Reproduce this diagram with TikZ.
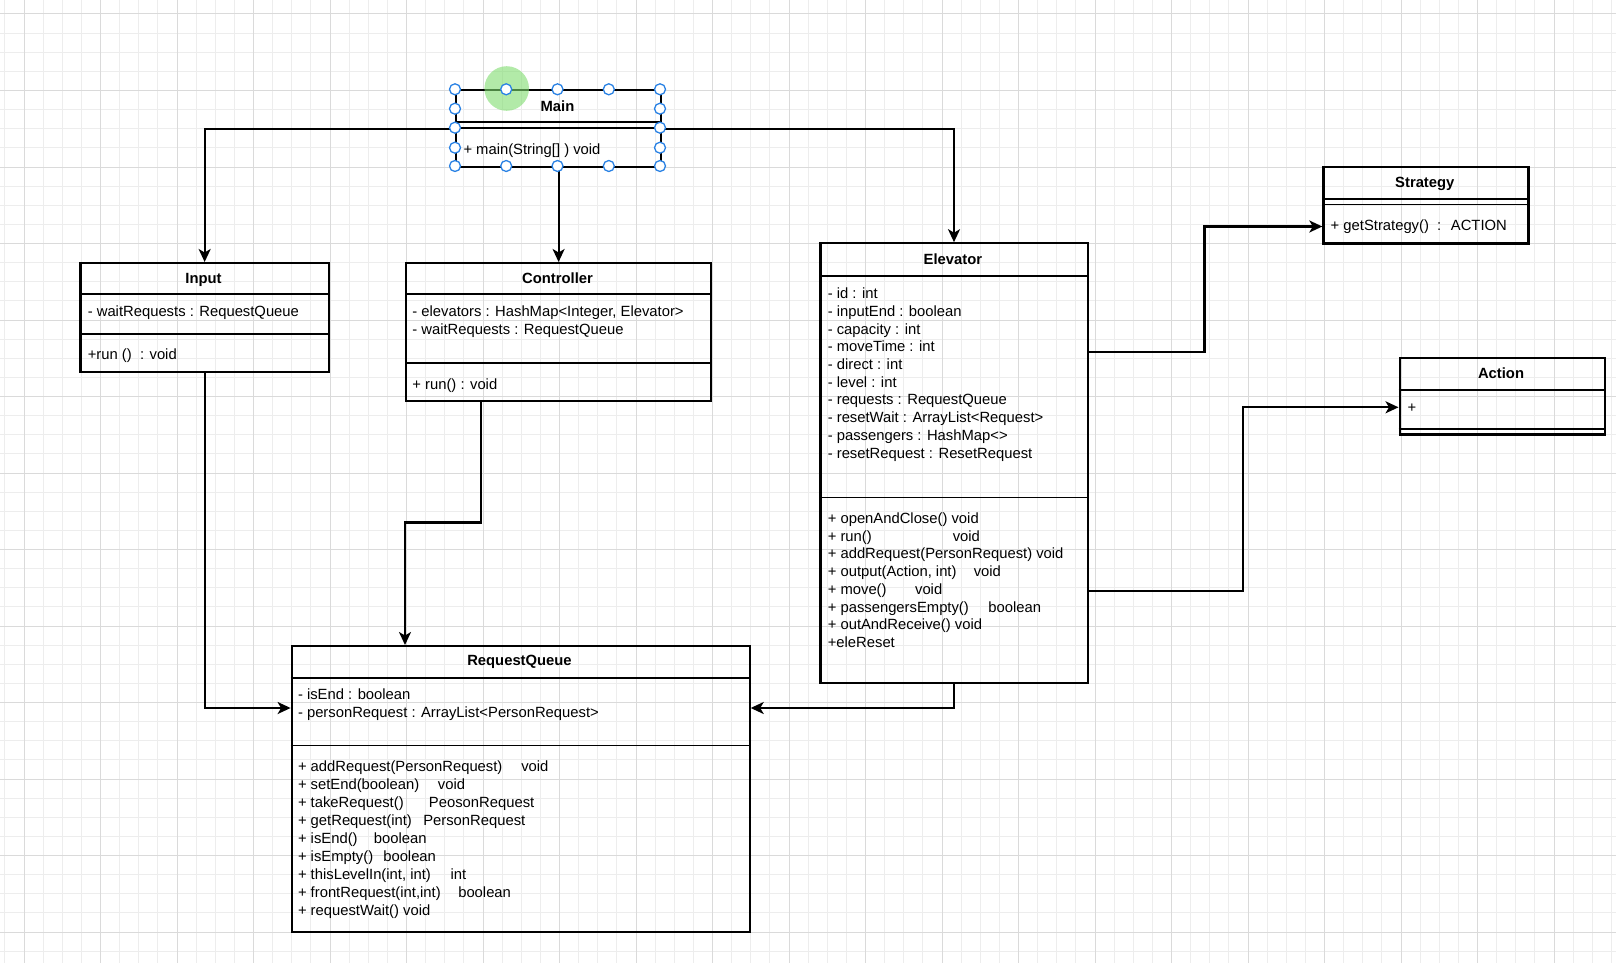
\documentclass[tikz,border=0pt]{standalone}
\usepackage{fontspec}
\setmainfont{Liberation Sans}
\usepackage{xcolor}
\definecolor{gridminor}{HTML}{EDEDED}
\definecolor{gridmajor}{HTML}{DADADA}
\definecolor{handle}{HTML}{2A82E4}
\definecolor{halo}{HTML}{7EDC6E}
\usetikzlibrary{arrows.meta,positioning,calc}

\begin{document}
\begin{tikzpicture}[x=1pt,y=-1pt,
  cls/.style={draw,line width=2.2pt,inner sep=0,anchor=north west},
  hdline/.style={line width=2.2pt},
  sep/.style={line width=1.1pt},
  conn/.style={line width=2.1pt,-{Stealth[length=13pt,width=12pt,inset=3.5pt]}},
  mem/.style={anchor=west,inner sep=0,text height=11pt,text depth=2.5pt,font=\fontsize{14.8}{17.75}\selectfont},
  ttl/.style={inner sep=0,text height=11pt,text depth=2.5pt,font=\fontsize{14.8}{17.75}\selectfont\bfseries},
  hdl/.style={circle,draw=handle,fill=white,line width=1.3pt,minimum size=11pt,inner sep=0}]
  \useasboundingbox (0,0) rectangle (1616,963);
  % grid
  \foreach \i in {0,...,84} \draw[gridminor,line width=1pt] ({4.875+19.125*\i},0) -- ++(0,963);
  \foreach \j in {0,...,49} \draw[gridminor,line width=1pt] (0,{14+19.125*\j}) -- ++(1616,0);
  \foreach \i in {0,...,20} \draw[gridmajor,line width=1pt] ({24+76.5*\i},0) -- ++(0,963);
  \foreach \j in {0,...,12} \draw[gridmajor,line width=1pt] (0,{14+76.5*\j}) -- ++(1616,0);
  % classes
  \node[cls,minimum width=205pt,minimum height=77pt] (main) at (455,89) {};
  \draw[hdline] (455,122) -- (660,122);
  \draw[sep] (455,128) -- (660,128);
  \node[ttl] (mainT) at (557.5,107.2) {Main};
  \node[mem] (mainM) at (463.3,150) {+ main(String[] ) void};

  \node[cls,minimum width=248.3pt,minimum height=109pt] (input) at (79.4,262) {};
  \draw[hdline] (79.4,294) -- (327.7,294);
  \draw[sep] (79.4,334) -- (327.7,334);
  \node[ttl] (inputT) at (203.5,279.3) {Input};
  \node[mem] (inputA) at (87.6,312.3) {- waitRequests : RequestQueue};
  \node[mem] (inputM) at (87.6,355.6) {+run ()~ : void};

  \node[cls,minimum width=305pt,minimum height=138pt] (ctrl) at (405,262) {};
  \draw[hdline] (405,294) -- (710,294);
  \draw[sep] (405,363) -- (710,363);
  \node[ttl] (ctrlT) at (557.5,279.3) {Controller};
  \node[mem] (ctrlA1) at (412.2,312.3) {- elevators : HashMap<Integer, Elevator>};
  \node[mem] (ctrlA2) at (412.2,329.8) {- waitRequests : RequestQueue};
  \node[mem] (ctrlM) at (412.2,385.4) {+ run() : void};

  \node[cls,minimum width=267.2pt,minimum height=439.3pt] (elev) at (819.3,242.2) {};
  \draw[hdline] (819.3,276) -- (1086.5,276);
  \draw[sep] (819.3,497.3) -- (1086.5,497.3);
  \node[ttl] (elevT) at (952.9,260.7) {Elevator};
  \foreach \t [count=\k from 0] in {{- id : int},{- inputEnd : boolean},{- capacity : int},
    {- moveTime : int},{- direct : int},{- level : int},{- requests : RequestQueue},
    {- resetWait : ArrayList<Request>},{- passengers : HashMap<>},{- resetRequest : ResetRequest}}
    \node[mem] (elevA\k) at (827.6,{294.3+17.74*\k}) {\t};
  \foreach \t [count=\k from 0] in {{+ openAndClose() void},{\makebox[125pt][l]{+ run()}void},
    {+ addRequest(PersonRequest) void},{\makebox[146pt][l]{+ output(Action, int)}void},
    {\makebox[87.3pt][l]{+ move()}void},{\makebox[160.6pt][l]{+ passengersEmpty()}boolean},
    {+ outAndReceive() void},{+eleReset}}
    \node[mem] (elevM\k) at (827.6,{519+17.76*\k}) {\t};

  \node[cls,minimum width=205pt,minimum height=76.3pt] (strat) at (1322.3,166) {};
  \draw[hdline] (1322.3,199) -- (1527.3,199);
  \draw[sep] (1322.3,204.3) -- (1527.3,204.3);
  \node[ttl] (stratT) at (1424.8,183.4) {Strategy};
  \node[mem] (stratM) at (1330.5,226.7) {+ getStrategy()~ :~ ACTION};

  \node[cls,minimum width=205pt,minimum height=76.3pt] (action) at (1398.5,357) {};
  \draw[hdline] (1398.5,390.3) -- (1603.5,390.3);
  \draw[sep] (1398.5,429) -- (1603.5,429);
  \node[ttl] (actionT) at (1501,374.1) {Action};
  \node[mem] (actionA) at (1407.5,408.3) {+};

  \node[cls,minimum width=457.9pt,minimum height=285.7pt] (rq) at (290.6,645) {};
  \draw[hdline] (290.6,677.7) -- (748.5,677.7);
  \draw[sep] (290.6,745.7) -- (748.5,745.7);
  \node[ttl] (rqT) at (519.5,661.6) {RequestQueue};
  \node[mem] (rqA1) at (297.8,695) {- isEnd : boolean};
  \node[mem] (rqA2) at (297.8,713.3) {- personRequest : ArrayList<PersonRequest>};
  \foreach \t [count=\k from 0] in {{\makebox[223.3pt][l]{+ addRequest(PersonRequest)}void},
    {\makebox[140pt][l]{+ setEnd(boolean)}void},{\makebox[131pt][l]{+ takeRequest()}PeosonRequest},
    {\makebox[125.3pt][l]{+ getRequest(int)}PersonRequest},{\makebox[76pt][l]{+ isEnd()}boolean},
    {\makebox[85.3pt][l]{+ isEmpty()}boolean},{\makebox[152.7pt][l]{+ thisLevelIn(int, int)}int},
    {\makebox[160.3pt][l]{+ frontRequest(int,int)}boolean},{+ requestWait() void}}
    \node[mem] (rqM\k) at (297.8,{767.7+17.9*\k}) {\t};
  % connectors
  \draw[conn] (main.west) -| (input.north);
  \draw[conn] (main.east) -| (elev.north);
  \draw[conn] (main.south) -- (ctrl.north);
  \draw[conn] (input.south) |- (rq.west|-0,708);
  \draw[conn] (ctrl.south-|481.3,0) -- (481.3,522.5) -| (rq.north-|405,0);
  \draw[conn] (elev.south) |- (rq.east|-0,708);
  \draw[conn] (elev.east|-0,352) -| (1204.5,226.5) -- (strat.west|-0,226.5);
  \draw[conn] (elev.east|-0,591) -| (1242.7,407.3) -- (action.west|-0,407.3);
  % selection handles
  \fill[halo,opacity=0.6] (506.7,88.5) circle[radius=22.3];
  \foreach \x [count=\n] in {455,506.2,557.5,608.8,660} {
    \node[hdl] (ht\n) at (\x,89.3) {};
    \node[hdl] (hb\n) at (\x,166) {};
  }
  \foreach \y [count=\n] in {108.7,127.7,147.7} {
    \node[hdl] (hl\n) at (455,\y) {};
    \node[hdl] (hr\n) at (660,\y) {};
  }
\end{tikzpicture}
\end{document}
